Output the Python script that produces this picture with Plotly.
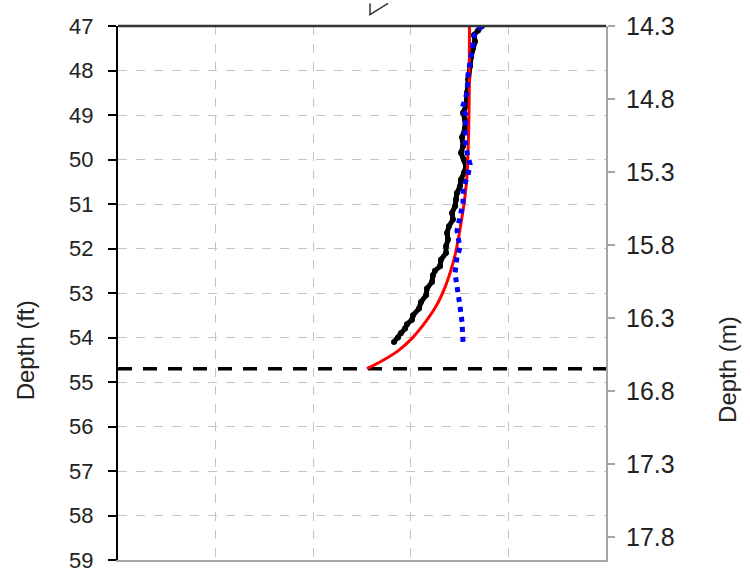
import plotly.graph_objects as go

# ---------------- data ----------------
# measured profile (black, wavy)
black_depth = [47.0, 47.1, 47.2, 47.35, 47.5, 47.7, 47.9, 48.2, 48.5, 48.8, 48.95, 49.1, 49.3,
               49.5, 49.7, 49.85, 50.0, 50.15, 50.3, 50.45, 50.6, 50.75, 50.9, 51.05, 51.2,
               51.35, 51.5, 51.65, 51.8, 51.95, 52.1, 52.25, 52.4, 52.5, 52.6, 52.75, 52.9,
               53.05, 53.2, 53.35, 53.5, 53.6, 53.7, 53.8, 53.9, 54.0, 54.1]
black_val = [3.730, 3.689, 3.648, 3.658, 3.637, 3.617, 3.607, 3.586, 3.576, 3.566, 3.535, 3.555,
             3.555, 3.525, 3.535, 3.514, 3.545, 3.566, 3.545, 3.514, 3.504, 3.473, 3.463, 3.453,
             3.422, 3.432, 3.391, 3.371, 3.381, 3.361, 3.361, 3.309, 3.299, 3.248, 3.227, 3.217,
             3.166, 3.156, 3.105, 3.084, 3.023, 3.012, 2.961, 2.941, 2.900, 2.869, 2.828]

# fitted curve (red)
red_depth = [47.0, 48.0, 49.0, 50.0, 50.5, 51.0, 51.5, 51.82, 52.2, 52.55, 52.9, 53.3, 53.65,
             54.02, 54.3, 54.5, 54.7]
red_val = [3.601, 3.600, 3.596, 3.584, 3.571, 3.545, 3.509, 3.484, 3.448, 3.402, 3.345, 3.258,
           3.151, 3.012, 2.869, 2.725, 2.551]

# second profile (blue dotted)
blue_depth = [47.0, 47.15, 47.4, 47.7, 48.1, 48.5, 48.85, 49.0, 49.3, 49.55, 49.85, 50.1, 50.35,
              50.65, 50.98, 51.3, 51.6, 51.98, 52.2, 52.55, 52.8, 53.0, 53.3, 53.65, 54.02, 54.1]
blue_val = [3.730, 3.658, 3.637, 3.617, 3.586, 3.576, 3.525, 3.566, 3.566, 3.555, 3.576, 3.607,
            3.586, 3.535, 3.535, 3.504, 3.473, 3.504, 3.473, 3.453, 3.473, 3.484, 3.504, 3.525,
            3.525, 3.535]

tip_depth = 54.7          # dashed horizontal line depth (ft)
x_range = [0, 5]
ft_ticks = list(range(47, 60))
m_ticks = [14.3, 14.8, 15.3, 15.8, 16.3, 16.8, 17.3, 17.8]
m_top = 14.3
m_bottom = 14.3 + 12 * 0.3048

FONT = "Liberation Sans, Arial, sans-serif"

fig = go.Figure()

fig.add_trace(go.Scatter(x=x_range, y=[tip_depth, tip_depth], mode="lines",
                         line=dict(color="black", width=3.5, dash="14px,11px"),
                         showlegend=False, hoverinfo="skip"))
fig.add_trace(go.Scatter(x=black_val, y=black_depth, mode="lines+markers",
                         line=dict(color="black", width=5),
                         marker=dict(color="black", size=6),
                         showlegend=False))
fig.add_trace(go.Scatter(x=red_val, y=red_depth, mode="lines",
                         line=dict(color="#ff0000", width=3, shape="spline", smoothing=1),
                         showlegend=False))
fig.add_trace(go.Scatter(x=blue_val, y=blue_depth, mode="lines",
                         line=dict(color="#0000ff", width=5, dash="dot"),
                         showlegend=False))
# invisible trace to anchor right axis
fig.add_trace(go.Scatter(x=[None], y=[None], yaxis="y2", mode="lines",
                         showlegend=False, hoverinfo="skip"))

W, H = 750, 585
L, R, T, B = 118, 606, 21, 566
pw, ph = R - L, B - T


def px(x):
    return (x - L) / pw


def py(y):
    return (B - y) / ph


fig.update_layout(
    width=W, height=H,
    margin=dict(l=L, r=W - R, t=T, b=H - B),
    paper_bgcolor="white", plot_bgcolor="white",
    font=dict(family=FONT, color="#222222"),
    xaxis=dict(range=x_range, dtick=1, showticklabels=False, ticks="",
               showgrid=True, gridcolor="#c4c4c4", griddash="dash", gridwidth=1,
               showline=True, linecolor="#a6a6a6", linewidth=2, zeroline=False),
    yaxis=dict(range=[59, 47], tickvals=ft_ticks, ticks="outside", ticklen=8,
               tickcolor="black", tickwidth=1.5, ticklabelstandoff=10,
               tickfont=dict(size=22, color="#222222", family=FONT),
               showgrid=True, gridcolor="#c4c4c4", griddash="dash", gridwidth=1,
               showline=True, linecolor="black", linewidth=2, zeroline=False),
    yaxis2=dict(overlaying="y", side="right", range=[m_bottom, m_top],
                tickvals=m_ticks, ticktext=[f"{v:.1f}" for v in m_ticks],
                ticks="outside", ticklen=7, tickcolor="#a6a6a6", tickwidth=1.5,
                ticklabelstandoff=6,
                tickfont=dict(size=25, color="#222222", family=FONT),
                showgrid=False, showline=True, linecolor="#a6a6a6", linewidth=2,
                zeroline=False),
    shapes=[
        dict(type="line", xref="paper", yref="paper", x0=0, x1=1, y0=1, y1=1,
             line=dict(color="#333333", width=2.5)),
        dict(type="path", xref="paper", yref="paper",
             path=f"M {px(370)},{py(-2)} L {px(370)},{py(9.3)} L {px(388)},{py(-2)}",
             line=dict(color="#333333", width=1.5)),
    ],
    annotations=[
        dict(text="Depth (ft)", xref="paper", yref="paper", x=px(25), y=py(352),
             showarrow=False, textangle=-90, font=dict(size=24, color="#222222", family=FONT),
             xanchor="center", yanchor="middle"),
        dict(text="Depth (m)", xref="paper", yref="paper", x=px(728), y=py(372),
             showarrow=False, textangle=-90, font=dict(size=24, color="#222222", family=FONT),
             xanchor="center", yanchor="middle"),
    ],
)

fig.write_html("out.html")
